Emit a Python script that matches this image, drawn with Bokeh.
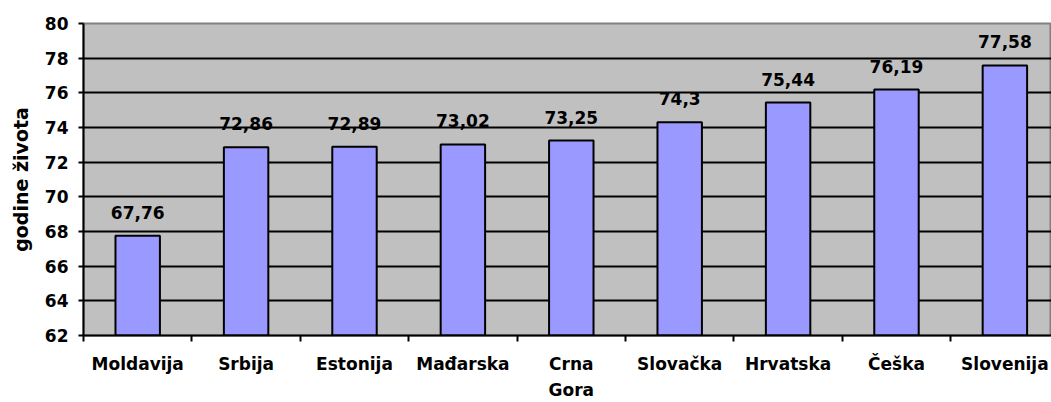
from bokeh.plotting import figure
from bokeh.models import Range1d, FixedTicker, LabelSet, ColumnDataSource
from bokeh.core.properties import value
from bokeh.embed import file_html
from bokeh.resources import INLINE

countries = ["Moldavija", "Srbija", "Estonija", "Mađarska", "Crna\nGora",
             "Slovačka", "Hrvatska", "Češka", "Slovenija"]
values = [67.76, 72.86, 72.89, 73.02, 73.25, 74.3, 75.44, 76.19, 77.58]
y_ticks = [62, 64, 66, 68, 70, 72, 74, 76, 78, 80]
y_title = "godine života"

FONT = "DejaVu Sans"
FS = "17px"

centers = [i + 0.5 for i in range(len(countries))]
bounds = [float(i) for i in range(len(countries) + 1)]
labels = [f"{v:g}".replace(".", ",") for v in values]

source = ColumnDataSource(dict(x=centers, top=values, label=labels))

p = figure(width=1051, height=402, output_backend="svg", toolbar_location=None,
           x_range=Range1d(0, 8.93), y_range=Range1d(y_ticks[0], y_ticks[-1]),
           min_border_left=83, min_border_top=23, min_border_right=0,
           min_border_bottom=67)

p.background_fill_color = "#C0C0C0"
p.border_fill_color = "white"
p.outline_line_color = "#808080"
p.outline_line_width = 2

p.vbar(x="x", top="top", bottom=y_ticks[0], width=0.41, source=source,
       fill_color="#9999FF", line_color="black", line_width=2)

p.add_layout(LabelSet(x="x", y="top", text="label", source=source,
                      text_align="center", text_baseline="alphabetic",
                      y_offset=17, text_font=value(FONT),
                      text_font_style="bold", text_font_size=value(FS),
                      text_color="black"))

p.xgrid.visible = False
p.ygrid.ticker = FixedTicker(ticks=y_ticks[:-1])
p.ygrid.grid_line_color = "black"
p.ygrid.grid_line_width = 2

# y axis
p.yaxis.ticker = FixedTicker(ticks=y_ticks)
p.yaxis.axis_line_width = 2
p.yaxis.axis_line_color = "black"
p.yaxis.major_tick_in = 0
p.yaxis.major_tick_out = 5
p.yaxis.major_tick_line_width = 2
p.yaxis.minor_tick_line_color = None
p.yaxis.major_label_standoff = 10
p.yaxis.major_label_text_font = FONT
p.yaxis.major_label_text_font_style = "bold"
p.yaxis.major_label_text_font_size = FS
p.yaxis.major_label_text_color = "black"
p.yaxis.axis_label = y_title
p.yaxis.axis_label_text_font = FONT
p.yaxis.axis_label_text_font_style = "bold"
p.yaxis.axis_label_text_font_size = "19px"
p.yaxis.axis_label_text_color = "black"
p.yaxis.axis_label_standoff = 10

# x axis: labels at centers, tick marks at category boundaries
p.xaxis.ticker = FixedTicker(ticks=centers, minor_ticks=bounds)
p.xaxis.major_label_overrides = {c: n for c, n in zip(centers, countries)}
p.xaxis.axis_line_width = 2
p.xaxis.axis_line_color = "black"
p.xaxis.major_tick_in = 0
p.xaxis.major_tick_out = 0
p.xaxis.minor_tick_in = 0
p.xaxis.minor_tick_out = 6
p.xaxis.minor_tick_line_width = 2
p.xaxis.minor_tick_line_color = "black"
p.xaxis.major_label_standoff = 12
p.xaxis.major_label_text_font = FONT
p.xaxis.major_label_text_font_style = "bold"
p.xaxis.major_label_text_font_size = FS
p.xaxis.major_label_text_color = "black"
p.xaxis.major_label_text_line_height = 1.3

open("out.html", "w").write(file_html(p, INLINE))
